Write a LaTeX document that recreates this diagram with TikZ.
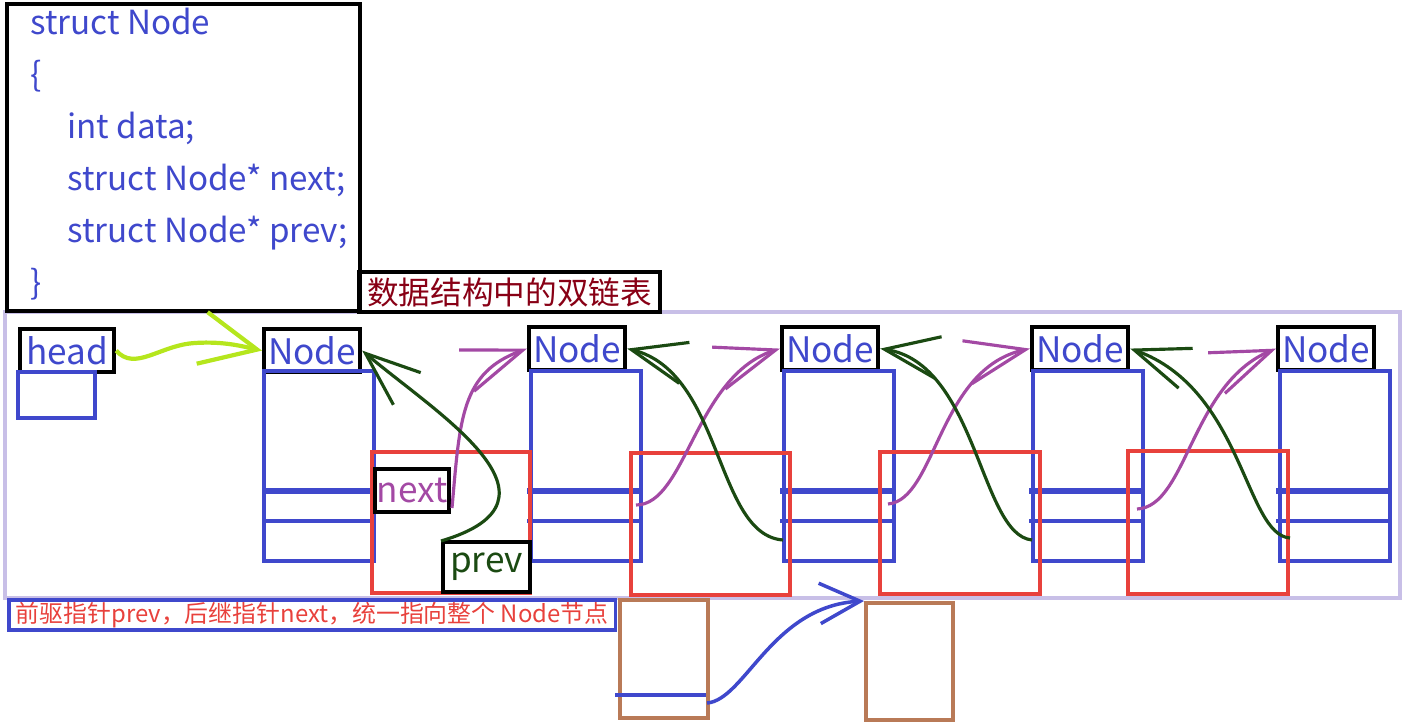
\documentclass[tikz,border=0pt]{standalone}
\usepackage{fontspec}
\setmainfont{Noto Sans CJK SC}
\usetikzlibrary{arrows.meta}
\definecolor{ink}{HTML}{3F48CC}
\definecolor{lav}{HTML}{C8BFE7}
\definecolor{redline}{HTML}{E8413C}
\definecolor{plum}{HTML}{A349A4}
\definecolor{pine}{HTML}{1B4A12}
\definecolor{lime}{HTML}{B5E61D}
\definecolor{clay}{HTML}{B97A57}
\definecolor{wine}{HTML}{880015}
\begin{document}
\begin{tikzpicture}[x=0.02cm,y=-0.02cm,
    lbl/.style={draw,line width=2.4pt,inner sep=0pt,anchor=north west,
      minimum width=1.92cm,minimum height=0.86cm,text=ink,
      font=\fontsize{20}{24}\selectfont},
    cell/.style={draw=ink,line width=2.4pt,inner sep=0pt,anchor=north west,
      minimum width=2.2cm,minimum height=3.8cm},
    field/.style={ink,line width=2.4pt},
    hole/.style={redline,line width=2.2pt},
    box/.style={draw=clay,line width=2.2pt,inner sep=0pt,anchor=north west,
      minimum width=1.76cm,minimum height=2.36cm},
    code/.style={anchor=base west,text=ink,inner sep=0pt,
      font=\fontsize{18.9}{24}\selectfont},
    nextarr/.style={plum,line width=1.8pt,
      -{Straight Barb[length=34pt,width=25pt]}},
    prevarr/.style={pine,line width=1.8pt,
      -{Straight Barb[length=31pt,width=24pt]}}]
  \useasboundingbox (0,0) rectangle (1406,722);

  % frame and the struct
  \draw[lav,line width=2.2pt] (5,312) rectangle (1400,598);
  \draw[line width=2.4pt] (7,4) rectangle (360,311);
  \node[code] (s1) at (30,35) {struct Node};
  \node[code] (s2) at (30,87) {\{};
  \node[code] (s3) at (67,139) {int data;};
  \node[code] (s4) at (67,191) {struct Node* next;};
  \node[code] (s5) at (67,243) {struct Node* prev;};
  \node[code] (s6) at (30,295) {\}};
  \node[draw,line width=2.4pt,inner sep=0pt,anchor=north west,
    minimum width=6.02cm,minimum height=0.8cm,text=wine,
    font=\fontsize{18}{20}\selectfont] (title) at (357,270) {数据结构中的双链表};

  % nodes
  \node[lbl,minimum width=1.88cm] (hd) at (18,327) {head};
  \draw[field] (18,372) rectangle (95,418);
  \node[lbl] (n1) at (262,327) {Node};
  \node[lbl] (n2) at (527,325) {Node};
  \node[lbl] (n3) at (780,325) {Node};
  \node[lbl] (n4) at (1030,325) {Node};
  \node[lbl] (n5) at (1276,325) {Node};
  \node[cell] (c1) at (262,369) {};
  \node[cell] (c2) at (529,369) {};
  \node[cell] (c3) at (782,369) {};
  \node[cell] (c4) at (1031,369) {};
  \node[cell] (c5) at (1278,369) {};
  \draw[field,line width=3.4pt] (262,491) -- (372,491);
  \draw[field] (262,521) -- (375,521);
  \draw[field,line width=3.4pt] (527,491) -- (640,491);
  \draw[field] (527,521) -- (640,521);
  \draw[field,line width=3.4pt] (780,491) -- (893,491);
  \draw[field] (780,521) -- (893,521);
  \draw[field,line width=3.4pt] (1029,491) -- (1142,491);
  \draw[field] (1029,521) -- (1143,521);
  \draw[field,line width=3.4pt] (1276,491) -- (1389,491);
  \draw[field] (1276,521) -- (1390,521);

  \draw[hole] (372,452) rectangle (530,593);
  \draw[hole] (631,453) rectangle (790,595);
  \draw[hole] (880,452) rectangle (1040,594);
  \draw[hole] (1128,451) rectangle (1288,594);
  \node[lbl,text=plum,minimum width=1.48cm] (nxt) at (373,467) {next};
  \node[lbl,text=pine,minimum width=1.74cm,minimum height=1cm] (prv) at (441,540) {prev};

  \coordinate (nx1) at (452,508);
  \coordinate (nx2) at (636,505);
  \coordinate (nx3) at (888,504);
  \coordinate (nx4) at (1137,509);
  \coordinate (pv2) at (441,541);
  \coordinate (pv3) at (783,540);
  \coordinate (pv4) at (1032,540);
  \coordinate (pv5) at (1290,538);

  % links
  \draw[lime,line width=2.4pt,-{Straight Barb[length=32pt,width=30pt]}]
    (hd.east) .. controls (135,372) and (160,345) .. (195,343)
    .. controls (225,341) and (245,347) .. (n1.west);
  \draw[nextarr] (nx1) .. controls +(8,-90) and +(-66,24) .. (n2.west);
  \draw[nextarr] (nx2) .. controls +(50,0) and +(-85,27) .. (n3.west);
  \draw[nextarr] (nx3) .. controls +(48,-4) and +(-92,20) .. (n4.west);
  \draw[nextarr] (nx4) .. controls +(50,-2) and +(-85,35) .. (n5.west);
  \draw[prevarr] (pv2) .. controls +(139,-41) and +(73,62) .. (n1.east);
  \draw[prevarr] (pv3) .. controls +(-68,-5) and +(96,24) .. (n2.east);
  \draw[prevarr] (pv4) .. controls +(-52,-5) and +(97,15) .. (n3.east);
  \draw[prevarr] (pv5) .. controls +(-45,-3) and +(113,40) .. (n4.east);

  % note and the two boxes
  \node[draw=ink,line width=2pt,inner sep=0pt,anchor=north west,
    minimum width=12.14cm,minimum height=0.6cm,text=redline,
    font=\fontsize{13.6}{15}\selectfont] (note) at (7,598)
    {前驱指针prev，后继指针next，统一指向整个 Node节点};
  \node[box] (br1) at (618,598) {};
  \node[box,minimum width=1.74cm,minimum height=2.34cm] (br2) at (864,601) {};
  \draw[field] (615,695) -- (706,695);
  \coordinate (bl) at (707,703);
  \draw[ink,line width=2pt,-{Straight Barb[length=23pt,width=23pt]}]
    (bl) .. controls +(38,-3) and +(-92,5) .. (br2.north west);
\end{tikzpicture}
\end{document}
